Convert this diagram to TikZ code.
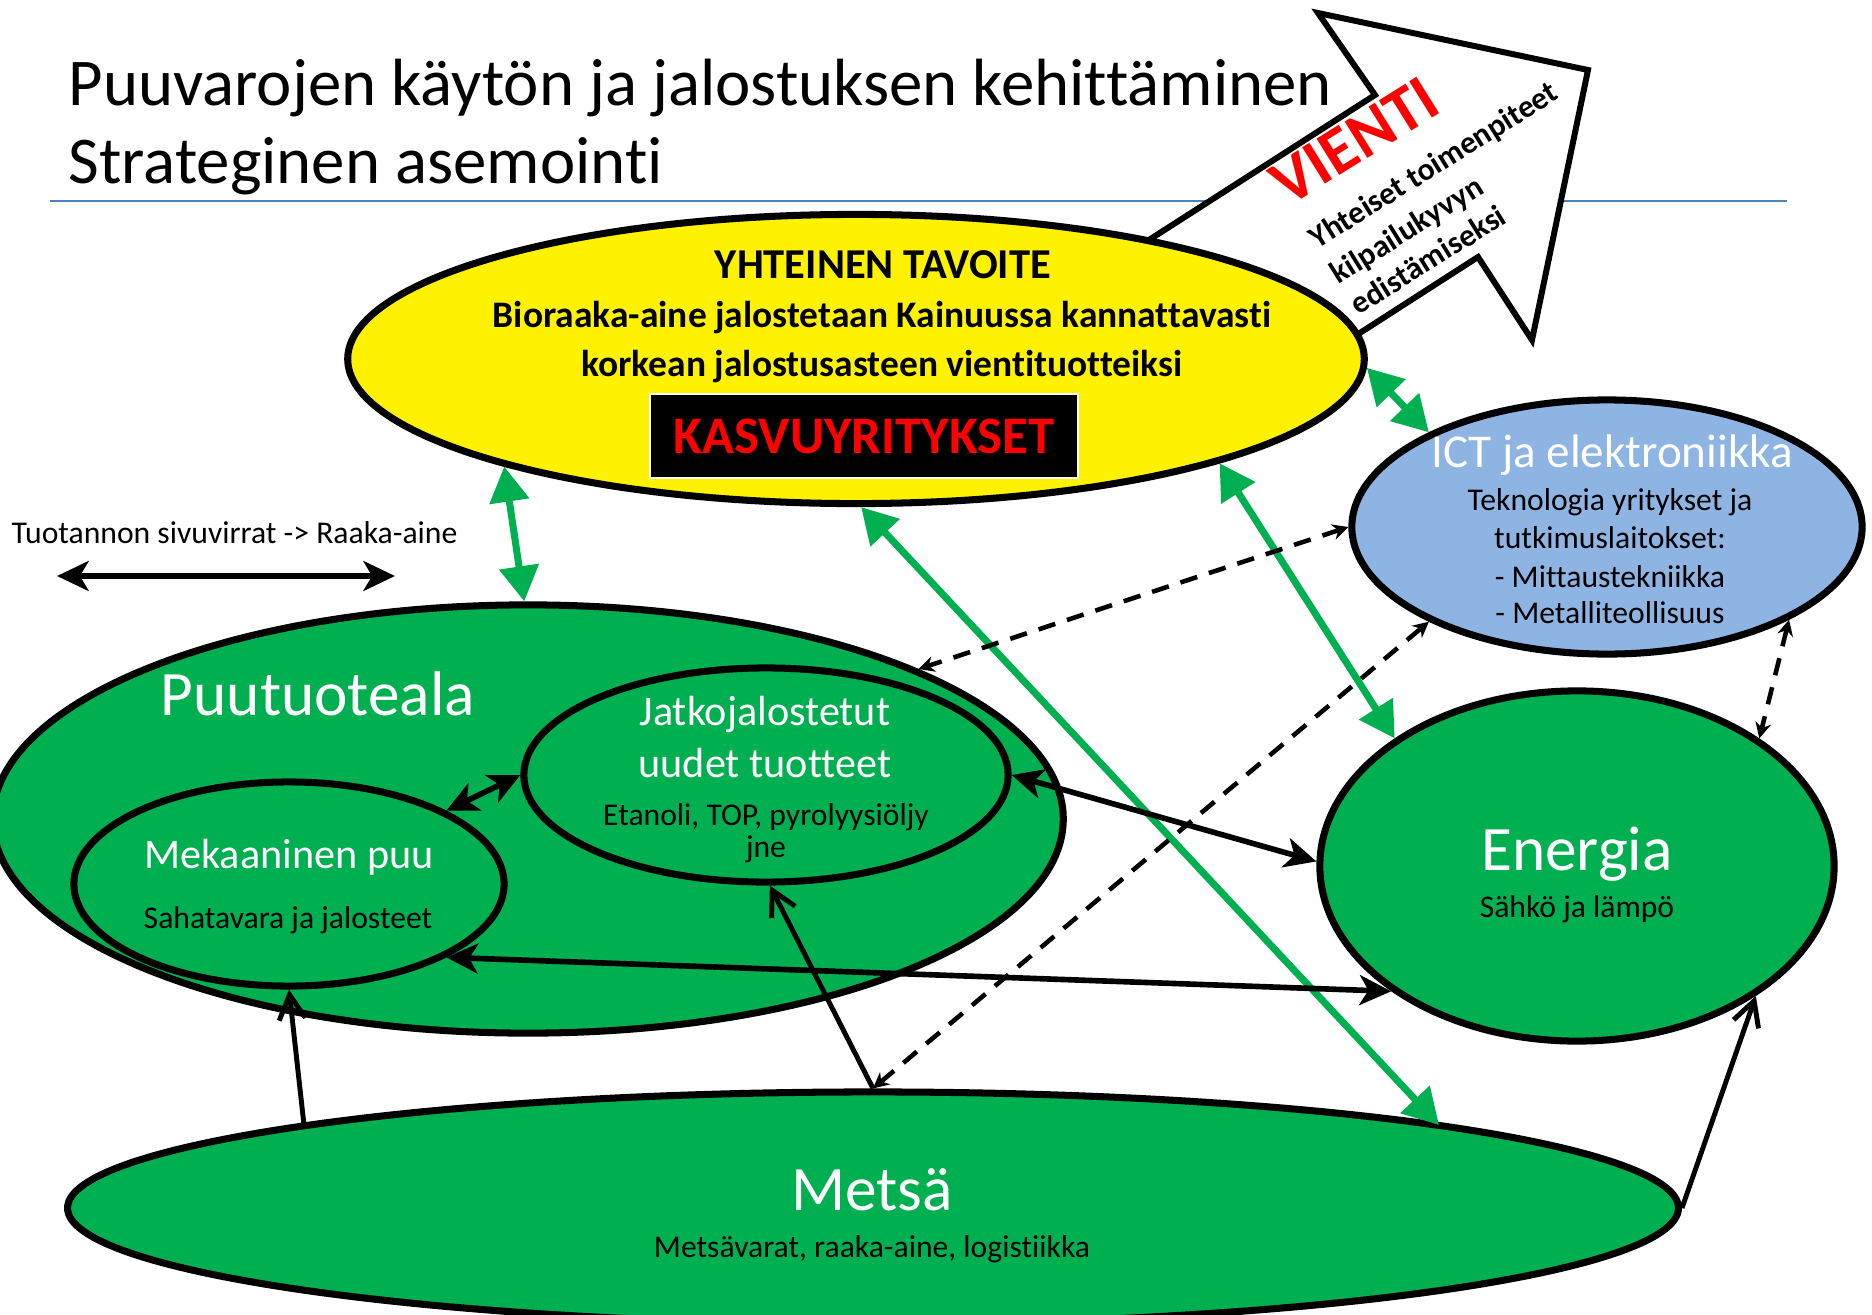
\documentclass[tikz,border=0pt]{standalone}
\usepackage{fontspec}
\setmainfont{Carlito}[Ligatures=CommonOff]
\usetikzlibrary{shapes.geometric,arrows.meta}
\definecolor{ppgreen}{RGB}{0,176,80}
\definecolor{ictblue}{RGB}{141,180,226}
\definecolor{ruleblue}{RGB}{79,129,189}

\begin{document}
\begin{tikzpicture}[x=0.01cm, y=-0.01cm,
    blob/.style={ellipse, draw=black, line width=2pt, inner sep=0pt},
    greenlink/.style={draw=ppgreen, line width=2pt, {Triangle[length=10pt,width=11pt]}-{Triangle[length=10pt,width=11pt]}},
    flow/.style={line width=1.6pt, {Stealth[length=9pt,width=8.5pt,inset=2.5pt]}-{Stealth[length=9pt,width=8.5pt,inset=2.5pt]}},
    feed/.style={line width=1.4pt, -{Straight Barb[length=7pt,width=7.5pt]}},
    know/.style={line width=1.3pt, dash pattern=on 5pt off 3.5pt, {Stealth[length=4.5pt,width=4.5pt]}-{Stealth[length=4.5pt,width=4.5pt]}},
    bigwhite/.style={text=white, font=\fontsize{18}{21.6}\selectfont, anchor=base},
    midwhite/.style={text=white, font=\fontsize{12}{14.4}\selectfont, anchor=base},
    smalltext/.style={font=\fontsize{9}{10.8}\selectfont, anchor=base},
    goaltext/.style={font=\bfseries\fontsize{10.65}{12.8}\selectfont, anchor=base},
    exporttext/.style={font=\bfseries\fontsize{9}{10.8}\selectfont, anchor=base west, rotate=32, inner sep=0pt}]

  \useasboundingbox (0,0) rectangle (1872,1315);
  \clip (0,0) rectangle (1872,1315);

  % centres of the blobs
  \coordinate (cyel) at (856,359);
  \coordinate (cict) at (1607,527);
  \coordinate (cpuu) at (528,819);
  \coordinate (cmek) at (289,884);
  \coordinate (cjat) at (766,775);
  \coordinate (cene) at (1577,866);
  \coordinate (cmet) at (873,1208);
  \coordinate (sideL) at (57,576);
  \coordinate (sideR) at (395,576);
  % where links leave the rim of Metsa
  \coordinate (metW) at (304,1125);
  \coordinate (metE) at (1439,1125);

  % title
  \draw[ruleblue, line width=0.7pt] (50,201) -- (1787,201);
  \node[anchor=base west, inner sep=0pt, font=\fontsize{19}{22.8}\selectfont] (title1) at (68,105) {Puuvarojen käytön ja jalostuksen kehittäminen};
  \node[anchor=base west, inner sep=0pt, font=\fontsize{19}{22.8}\selectfont] (title2) at (68,183) {Strateginen asemointi};

  % export arrow
  \draw[line width=1.7pt, fill=white, line join=miter] (1060,297) -- (1375,95) -- (1318,13) -- (1588,70) -- (1532,340) -- (1478,257) -- (1164,459) -- cycle;
  \node[exporttext, text=red, font=\bfseries\fontsize{18.8}{22}\selectfont] (vienti) at (1288,208) {VIENTI};
  \node[exporttext] (yhteiset) at (1317,250) {Yhteiset toimenpiteet};
  \node[exporttext] (kilpailu) at (1338,285) {kilpailukyvyn};
  \node[exporttext] (edistam) at (1358,316) {edistämiseksi};

  % blobs
  \node[blob, fill=ppgreen, minimum width=10.70cm, minimum height=4.28cm] (puu) at (cpuu) {};
  \node[blob, fill=ppgreen, minimum width=4.30cm, minimum height=2.04cm] (mek) at (cmek) {};
  \node[blob, fill=ppgreen, minimum width=4.84cm, minimum height=2.14cm] (jat) at (cjat) {};
  \node[blob, fill=yellow, minimum width=10.16cm, minimum height=2.89cm] (yel) at (cyel) {};
  \node[blob, fill=ictblue, minimum width=5.10cm, minimum height=2.54cm] (ict) at (cict) {};
  \node[blob, fill=ppgreen, minimum width=5.14cm, minimum height=3.50cm] (ene) at (cene) {};
  \node[blob, fill=ppgreen, minimum width=16.10cm, minimum height=2.32cm] (met) at (cmet) {};

  % texts
  \node[goaltext, font=\bfseries\fontsize{12.1}{14.5}\selectfont] (goal1) at (883,278) {YHTEINEN TAVOITE};
  \node[goaltext] (goal2) at (882,327) {Bioraaka-aine jalostetaan Kainuussa kannattavasti};
  \node[goaltext] (goal3) at (882,376) {korkean jalostusasteen vientituotteiksi};
  \node[fill=black, draw=white, line width=0.6pt, minimum width=4.27cm, minimum height=0.84cm, text=red, font=\bfseries\fontsize{15}{18}\selectfont] (kasvu) at (864,436) {KASVUYRITYKSET};

  \node[text=white, font=\fontsize{13.4}{16}\selectfont, anchor=base] (ictname) at (1612,467) {ICT ja elektroniikka};
  \node[smalltext] (ict1) at (1610,510) {Teknologia yritykset ja};
  \node[smalltext] (ict2) at (1610,548) {tutkimuslaitokset:};
  \node[smalltext] (ict3) at (1610,587) {- Mittaustekniikka};
  \node[smalltext] (ict4) at (1610,623) {- Metalliteollisuus};

  \node[smalltext, anchor=base west, inner sep=0pt] (sidetext) at (11,543) {Tuotannon sivuvirrat -> Raaka-aine};

  \node[bigwhite] (puuname) at (318,715) {Puutuoteala};
  \node[midwhite] (mekname) at (289,868) {Mekaaninen puu};
  \node[smalltext] (mektext) at (288,928) {Sahatavara ja jalosteet};
  \node[midwhite] (jatname1) at (765,725) {Jatkojalostetut};
  \node[midwhite] (jatname2) at (765,777) {uudet tuotteet};
  \node[smalltext] (jattext1) at (766,825) {Etanoli, TOP, pyrolyysiöljy};
  \node[smalltext] (jattext2) at (766,857) {jne};
  \node[bigwhite] (enename) at (1577,870) {Energia};
  \node[smalltext] (enetext) at (1577,917) {Sähkö ja lämpö};
  \node[bigwhite] (metname) at (872,1210) {Metsä};
  \node[smalltext] (mettext) at (872,1257) {Metsävarat, raaka-aine, logistiikka};

  % links
  \draw[flow] (sideL) -- (sideR);
  \draw[greenlink] (yel.197) -- (puu.91);
  \draw[greenlink] (yel.359) -- (ict.152);
  \draw[greenlink] (yel.344) -- (ene.145);
  \draw[greenlink] (yel.272) -- (metE);
  \draw[flow] (mek.25) -- (jat.180);
  \draw[flow] (jat.0) -- (ene.179);
  \draw[flow] (mek.335) -- (ene.214);
  \draw[feed] (metW) -- (mek.270);
  \draw[feed] (met.90) -- (jat.272);
  \draw[feed] (met.0) -- (ene.324);
  \draw[know] (ict.180) -- (puu.21);
  \draw[know] (met.90) -- (ict.208);
  \draw[know] (ict.333) -- (ene.35);
\end{tikzpicture}
\end{document}
